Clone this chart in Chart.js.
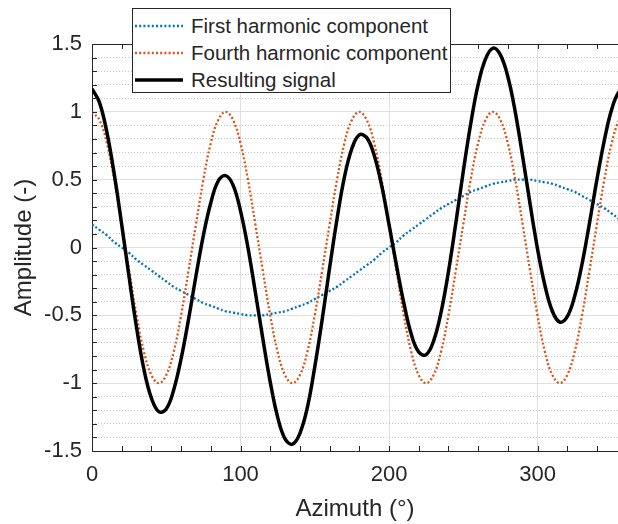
<!DOCTYPE html>
<html lang="en">
<head>
<meta charset="UTF-8">
<title>Harmonicos</title>
<script src="https://cdn.jsdelivr.net/npm/chart.js"></script>
<style>
    html, body { margin:0; padding:0; background:#fff; overflow:hidden; }
    .wrap { position:relative; width:618px; height:524px; }
    #legenda { position:absolute; left:132px; top:8px; width:319px; height:85px; box-sizing:border-box;
        border:1px solid #262626; background:#fff; font-family:"Liberation Sans", Arial, sans-serif;
        font-size:20.5px; color:#262626; }
    .item { position:absolute; left:0; width:100%; height:27px; }
    .item svg { position:absolute; left:2px; top:11px; }
    .item span { position:absolute; left:58px; top:2px; white-space:nowrap; line-height:24px; }
</style>
</head>
<body>
<div class="wrap">
    <canvas id="grafico" width="618" height="524"></canvas>
    <div id="legenda"></div>
</div>
<script>
    // azimute em graus (a figura original corta o eixo perto de 354)
    const azimute = [0,5,10,15,20,25,30,35,40,45,50,55,60,65,70,75,80,85,
        90,95,100,105,110,115,120,125,130,135,140,145,150,155,160,165,170,175,
        180,185,190,195,200,205,210,215,220,225,230,235,240,245,250,255,260,265,
        270,275,280,285,290,295,300,305,310,315,320,325,330,335,340,345,350,355,360]

    const primeiro = [0.17,0.13,0.09,0.04,0,-0.04,-0.09,-0.13,-0.17,-0.21,-0.25,-0.29,-0.32,-0.35,-0.38,-0.41,-0.43,-0.45,
        -0.47,-0.48,-0.49,-0.50,-0.50,-0.50,-0.49,-0.48,-0.47,-0.45,-0.43,-0.41,-0.38,-0.35,-0.32,-0.29,-0.25,-0.21,
        -0.17,-0.13,-0.09,-0.04,0,0.04,0.09,0.13,0.17,0.21,0.25,0.29,0.32,0.35,0.38,0.41,0.43,0.45,
        0.47,0.48,0.49,0.50,0.50,0.50,0.49,0.48,0.47,0.45,0.43,0.41,0.38,0.35,0.32,0.29,0.25,0.21,
        0.17]

    const quarto = [1,0.94,0.77,0.5,0.17,-0.17,-0.5,-0.77,-0.94,-1,-0.94,-0.77,-0.5,-0.17,0.17,0.5,0.77,0.94,
        1,0.94,0.77,0.5,0.17,-0.17,-0.5,-0.77,-0.94,-1,-0.94,-0.77,-0.5,-0.17,0.17,0.5,0.77,0.94,
        1,0.94,0.77,0.5,0.17,-0.17,-0.5,-0.77,-0.94,-1,-0.94,-0.77,-0.5,-0.17,0.17,0.5,0.77,0.94,
        1,0.94,0.77,0.5,0.17,-0.17,-0.5,-0.77,-0.94,-1,-0.94,-0.77,-0.5,-0.17,0.17,0.5,0.77,0.94,
        1]

    const resultante = [1.17,1.07,0.85,0.54,0.17,-0.22,-0.59,-0.90,-1.11,-1.21,-1.19,-1.05,-0.82,-0.53,-0.21,0.09,0.33,0.49,
        0.53,0.46,0.27,0.00,-0.33,-0.67,-0.99,-1.25,-1.41,-1.45,-1.37,-1.18,-0.88,-0.53,-0.15,0.21,0.52,0.73,
        0.83,0.81,0.68,0.46,0.17,-0.13,-0.41,-0.64,-0.77,-0.79,-0.69,-0.48,-0.18,0.18,0.56,0.91,1.20,1.39,
        1.47,1.42,1.26,1.00,0.67,0.32,-0.01,-0.28,-0.47,-0.55,-0.51,-0.36,-0.12,0.18,0.50,0.79,1.02,1.15,
        1.17]

    const corEixo = '#262626'
    const corGrade = '#e0e0e0'
    const fonte = '"Liberation Sans", Arial, sans-serif'
    Chart.defaults.font.family = fonte
    Chart.defaults.color = corEixo

    function pares(valores){
        return valores.map((v, i) => ({x: azimute[i], y: v}))
    }
    function ehMaior(v){
        return Math.abs(v * 2 - Math.round(v * 2)) < 1e-6
    }

    // tracinhos para dentro + linha de cima da caixa
    const tracinhos = {
        id: 'tracinhos',
        afterDraw(chart){
            const c = chart.ctx
            const area = chart.chartArea
            const sx = chart.scales.x
            const sy = chart.scales.yMenor
            c.save()
            c.strokeStyle = corEixo
            c.lineWidth = 1
            c.beginPath()
            c.moveTo(area.left, area.top + 0.5)
            c.lineTo(area.right, area.top + 0.5)
            for(const t of sx.ticks){
                const px = Math.round(sx.getPixelForValue(t.value)) + 0.5
                c.moveTo(px, area.bottom)
                c.lineTo(px, area.bottom - 5)
                c.moveTo(px, area.top)
                c.lineTo(px, area.top + 5)
            }
            for(const t of sy.ticks){
                const py = Math.round(sy.getPixelForValue(t.value)) + 0.5
                c.moveTo(area.left, py)
                c.lineTo(area.left + 5, py)
            }
            c.stroke()
            c.restore()
        }
    }

    const grafico = new Chart(document.getElementById('grafico'), {
        type: 'line',
        data: {
            datasets: [
                { label: 'First harmonic component', data: pares(primeiro), borderColor: '#0072BD',
                  borderWidth: 2.3, borderDash: [2, 2.2], order: 3 },
                { label: 'Fourth harmonic component', data: pares(quarto), borderColor: '#D95319',
                  borderWidth: 2.3, borderDash: [2, 2.2], order: 2 },
                { label: 'Resulting signal', data: pares(resultante), borderColor: '#000000',
                  borderWidth: 3.5, order: 1 }
            ]
        },
        options: {
            responsive: false,
            animation: false,
            layout: { padding: { left: 0, top: 44, right: 0, bottom: 0 } },
            elements: { point: { radius: 0 }, line: { tension: 0.4, fill: false } },
            plugins: { legend: { display: false }, tooltip: { enabled: false } },
            scales: {
                x: {
                    type: 'linear', min: 0, max: 354.2,
                    afterFit(s){ s.height = 73 },
                    ticks: { stepSize: 20, includeBounds: false, autoSkip: false, maxRotation: 0, padding: 11,
                        font: { size: 22 }, color: corEixo,
                        callback: v => (v % 100 === 0 ? String(v) : '') },
                    grid: { color: c => (c.tick && c.tick.value % 100 === 0) ? corGrade : 'rgba(0,0,0,0)', drawTicks: false },
                    border: { color: corEixo },
                    title: { display: true, text: 'Azimuth (°)', font: { size: 24 }, color: corEixo,
                        padding: { top: 0, bottom: 0 } }
                },
                y: {
                    min: -1.5, max: 1.5,
                    afterFit(s){ s.width = 92 },
                    ticks: { stepSize: 0.5, padding: 10, font: { size: 22 }, color: corEixo,
                        callback: v => String(Math.round(v * 10) / 10) },
                    grid: { color: corGrade, drawTicks: false },
                    border: { color: corEixo },
                    title: { display: true, text: 'Amplitude (-)', font: { size: 24 }, color: corEixo,
                        padding: { top: 10, bottom: 0 } }
                },
                yMenor: {
                    position: 'left', min: -1.5, max: 1.5,
                    afterFit(s){ s.width = 0 },
                    ticks: { display: false, stepSize: 0.1 },
                    grid: { color: c => (c.tick && !ehMaior(c.tick.value)) ? '#c4c4c4' : 'rgba(0,0,0,0)', drawTicks: false },
                    border: { display: false, dash: [1, 2] }
                }
            }
        },
        plugins: [tracinhos]
    })

    // legenda em html
    const legenda = document.getElementById('legenda')
    grafico.data.datasets.forEach((ds, i) => {
        const item = document.createElement('div')
        item.className = 'item'
        item.style.top = (3 + i * 27) + 'px'
        const tracejado = ds.borderDash ? `stroke-dasharray="${ds.borderDash.join(' ')}"` : ''
        item.innerHTML = `<svg width="50" height="6"><line x1="0" y1="3" x2="48" y2="3" stroke="${ds.borderColor}"
            stroke-width="${ds.borderWidth}" ${tracejado}/></svg><span>${ds.label}</span>`
        legenda.appendChild(item)
    })
</script>
</body>
</html>
